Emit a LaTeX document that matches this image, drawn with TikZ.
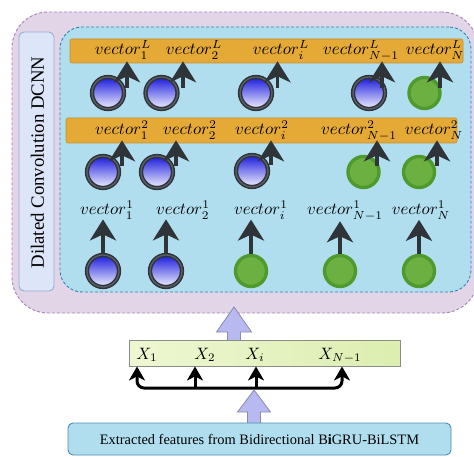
\documentclass[tikz,border=0pt]{standalone}
\usepackage{fontspec}
\newfontfamily\tms{Liberation Serif}
\usetikzlibrary{arrows.meta,calc}
\definecolor{purfill}{HTML}{E3D5E8}
\definecolor{purline}{HTML}{A384B8}
\definecolor{bluefill}{HTML}{B0DEEF}
\definecolor{blueline}{HTML}{2C86B2}
\definecolor{lblfill}{HTML}{DDE5F8}
\definecolor{lblline}{HTML}{98ACD4}
\definecolor{barfill}{HTML}{E5A936}
\definecolor{barline}{HTML}{C98E2A}
\definecolor{arrgray}{HTML}{2F3439}
\definecolor{ringgray}{HTML}{5A6068}
\definecolor{grfill}{HTML}{6DB042}
\definecolor{grline}{HTML}{4F9A2D}
\definecolor{lavfill}{HTML}{B9B9F2}
\definecolor{lavline}{HTML}{8A8AA8}
\definecolor{boxline}{HTML}{8C8C8C}
\definecolor{botline}{HTML}{4C8CB0}
\definecolor{gboxl}{HTML}{EEF7D2}
\definecolor{gboxr}{HTML}{DCEEB0}
\newcommand\vl[1]{\scalebox{1.68}{$#1$}}
\newcommand\xl[1]{\scalebox{1.65}{$#1$}}
\begin{document}
\begin{tikzpicture}[x=1pt,y=-1pt,
  outerbox/.style={draw=purline,fill=purfill,line width=0.9pt,dash pattern=on 3pt off 2pt,rounded corners=36pt,inner sep=0},
  innerbox/.style={draw=blueline,fill=bluefill,line width=0.9pt,dash pattern=on 3pt off 2pt,rounded corners=22pt,inner sep=0},
  lblbox/.style={draw=lblline,fill=lblfill,line width=0.9pt,rounded corners=5pt,inner sep=0},
  barbox/.style={draw=barline,fill=barfill,line width=0.6pt,rounded corners=2pt,inner sep=0},
  bcirc/.style={circle,inner sep=0,minimum size=32pt,top color=blue!85!black!90,bottom color=blue!5,draw=arrgray,double=ringgray,double distance=1.3pt,line width=1.5pt},
  gcirc/.style={circle,inner sep=0,minimum size=31pt,fill=grfill,draw=grline,line width=3.4pt},
  vlab/.style={anchor=base,inner sep=0},
  xlab/.style={anchor=base,inner sep=0},
  uparr/.style={draw=arrgray,line width=3.8pt,-{Stealth[length=21pt,width=26pt,inset=6pt]}},
  blkarr/.style={draw=black,line width=3pt,-{Stealth[length=14pt,width=16pt,inset=4pt]}},
  lav/.style={draw=lavline,fill=lavfill,line width=0.8pt,line join=miter}
]
\useasboundingbox (0,0) rectangle (474,457);

% containers
\node[outerbox,minimum width=466pt,minimum height=301pt] (outer) at (245,162.5) {};
\node[innerbox,minimum width=411pt,minimum height=265pt] (inner) at (265.5,159.5) {};
\node[lblbox,minimum width=35pt,minimum height=259pt] (lbl) at (36.5,161.5) {};
\node[rotate=90,inner sep=0,font=\tms\fontsize{18.8}{21}\selectfont] (lbltxt) at (37.5,162.5) {Dilated Convolution DCNN};

% bars
\node[barbox,minimum width=393pt,minimum height=24pt] (barA) at (266.5,51) {};
\node[barbox,minimum width=391pt,minimum height=25pt] (barB) at (261.5,130.5) {};

% circles row A
\node[bcirc] (cA1) at (108,93) {};
\node[bcirc] (cA2) at (161.5,93) {};
\node[bcirc] (cA3) at (256,93) {};
\node[bcirc] (cA4) at (369,93) {};
\node[gcirc] (cA5) at (424.5,93) {};
% circles row B
\node[bcirc] (cB1) at (103,172) {};
\node[bcirc] (cB2) at (157,172) {};
\node[bcirc] (cB3) at (252,171) {};
\node[gcirc] (cB4) at (363.5,172) {};
\node[gcirc] (cB5) at (419,172) {};
% circles row C
\node[bcirc] (cC1) at (103,271) {};
\node[bcirc] (cC2) at (166,271) {};
\node[gcirc] (cC3) at (251,271) {};
\node[gcirc] (cC4) at (340,271) {};
\node[gcirc] (cC5) at (419,271) {};

% labels
\node[vlab] (lA1) at (123,55) {\vl{vector_1^L}};
\node[vlab] (lA2) at (194,55) {\vl{vector_2^L}};
\node[vlab] (lA3) at (281,55) {\vl{vector_i^L}};
\node[vlab] (lA4) at (361,55) {\vl{vector_{N-1}^L}};
\node[vlab] (lA5) at (435,55) {\vl{vector_N^L}};
\node[vlab] (lB1) at (122,135) {\vl{vector_1^2}};
\node[vlab] (lB2) at (190,135) {\vl{vector_2^2}};
\node[vlab] (lB3) at (262,135) {\vl{vector_i^2}};
\node[vlab] (lB4) at (359,135) {\vl{vector_{N-1}^2}};
\node[vlab] (lB5) at (434,135) {\vl{vector_N^2}};
\node[vlab] (lC1) at (107,215) {\vl{vector_1^1}};
\node[vlab] (lC2) at (183,215) {\vl{vector_2^1}};
\node[vlab] (lC3) at (261,215) {\vl{vector_i^1}};
\node[vlab] (lC4) at (345,215) {\vl{vector_{N-1}^1}};
\node[vlab] (lC5) at (421,215) {\vl{vector_N^1}};

% arrows row A -> bar A
\foreach \n/\dx in {1/19,2/21.5,3/21.5,4/13,5/15.5}{
  \coordinate (aA\n) at ($(cA\n.center)+(\dx,-5)$);
  \draw[uparr,shorten >=-2pt] (aA\n) -- (aA\n |- barA.south);
}
% arrows row B -> bar B
\foreach \n/\dx in {1/19,2/19,3/19,4/13.5,5/18}{
  \coordinate (aB\n) at ($(cB\n.center)+(\dx,-6)$);
  \draw[uparr,shorten >=-3pt] (aB\n) -- (aB\n |- barB.south);
}
% arrows row C -> labels
\foreach \n in {1,...,5}{
  \draw[uparr] (cC\n.north) -- (cC\n.north |- lC\n.south);
}

% lower part
\draw[lav] (234,307) -- (251.5,332) -- (240.5,332) -- (240.5,341) -- (227.5,341) -- (227.5,332) -- (216.5,332) -- cycle;
\node[draw=boxline,line width=0.9pt,left color=gboxl,right color=gboxr,inner sep=0,minimum width=271pt,minimum height=26pt] (gbox) at (264.5,353) {};
\node[xlab] (x1) at (147,359) {\xl{X_1}};
\node[xlab] (x2) at (205,359) {\xl{X_2}};
\node[xlab] (x3) at (255,359) {\xl{X_i}};
\node[xlab] (x4) at (340,359) {\xl{X_{N-1}}};

\coordinate (t1) at (137,0 |- gbox.south);
\coordinate (t2) at (195,0 |- gbox.south);
\coordinate (t3) at (256,0 |- gbox.south);
\coordinate (t4) at (342,0 |- gbox.south);
\coordinate (hy) at (0,388);
\draw[blkarr,{Stealth[length=14pt,width=16pt,inset=4pt]}-{Stealth[length=14pt,width=16pt,inset=4pt]},rounded corners=7pt] (t1) -- (t1 |- hy) -- (t4 |- hy) -- (t4);
\draw[blkarr] (t2 |- hy) -- (t2);
\draw[blkarr] (t3 |- hy) -- (t3);

\draw[lav] (254,390) -- (270.5,412) -- (260.5,412) -- (260.5,424) -- (247.5,424) -- (247.5,412) -- (237.5,412) -- cycle;
\node[draw=botline,fill=bluefill,line width=0.9pt,rounded corners=5pt,inner sep=0,minimum width=383pt,minimum height=32pt,font=\tms\fontsize{14.4}{17}\selectfont] (feat) at (259.5,439) {Extracted features from Bidirectional B\textbf{i}GRU-BiLSTM};
\end{tikzpicture}
\end{document}
